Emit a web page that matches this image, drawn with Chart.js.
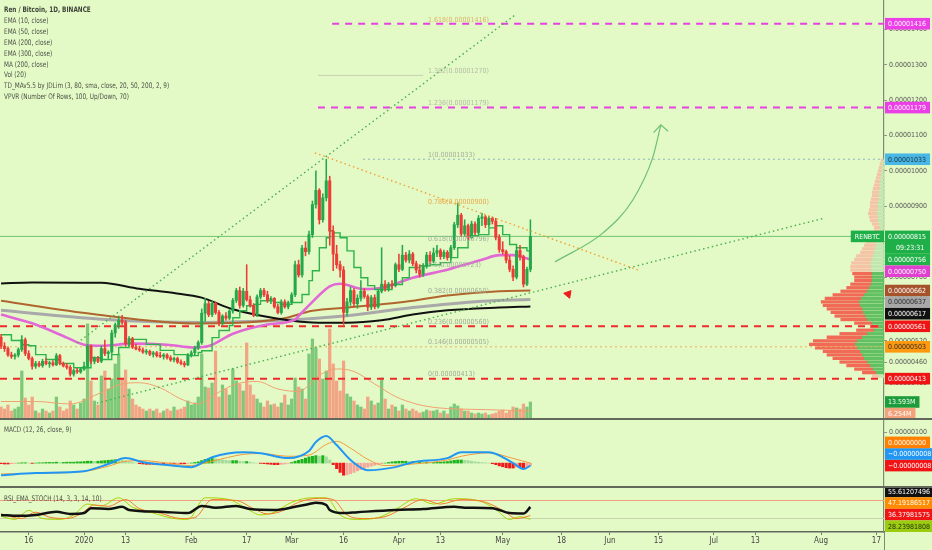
<!DOCTYPE html>
<html>
<head>
<meta charset="utf-8">
<title>Ren / Bitcoin, 1D</title>
<script src="https://cdn.jsdelivr.net/npm/chart.js@4.4.1/dist/chart.umd.min.js"></script>
<style>
body{margin:0;background:#e4fac6;}
#wrap{position:relative;width:932px;height:550px;overflow:hidden;background:#e4fac6;font-family:"Liberation Sans Narrow","DejaVu Sans Condensed",sans-serif;}
canvas{position:absolute;left:0;}
.sep{position:absolute;left:0;width:932px;height:2px;background:#62695c;}
.txt{position:absolute;left:4px;font-size:7.6px;color:#4a4f46;white-space:nowrap;line-height:10.9px;transform:scaleX(0.84);transform-origin:0 0;}
</style>
</head>
<body>
<div id="wrap">
<canvas id="cMain" width="932" height="419" style="top:0"></canvas>
<canvas id="cMacd" width="932" height="68" style="top:419px"></canvas>
<canvas id="cRsi" width="932" height="63" style="top:487px"></canvas>
<div class="sep" style="top:418px"></div>
<div class="sep" style="top:486px"></div>
<div style="position:absolute;left:884px;top:532px;width:1.2px;height:18px;background:#7d8a75"></div>
<div class="txt" style="top:5px"><b style="color:#3c4238">Ren / Bitcoin, 1D, BINANCE</b><br>EMA (10, close)<br>EMA (50, close)<br>EMA (200, close)<br>EMA (300, close)<br>MA (200, close)<br>Vol (20)<br>TD_MAv5.5 by JDLim (3, 80, sma, close, 20, 50, 200, 2, 9)<br>VPVR (Number Of Rows, 100, Up/Down, 70)</div>
<div class="txt" style="top:425px">MACD (12, 26, close, 9)</div>
<div class="txt" style="top:494px">RSI_EMA_STOCH (14, 3, 3, 14, 10)</div>
</div>
<script>
// day index 0 = 8 Dec 2019, prices in satoshi (1e-8 BTC)
const X_MIN = -0.3, X_MAX = 255.2;
const FONT = '"Liberation Sans Narrow","DejaVu Sans Condensed",sans-serif';

const xTickIdx  = [8, 24, 36, 55, 71, 84, 99, 115, 127, 145, 162, 176, 190, 206, 218, 237, 253];
const xTickText = ['16', '2020', '13', 'Feb', '17', 'Mar', '16', 'Apr', '13', 'May', '18', 'Jun', '15', 'Jul', '13', 'Aug', '17'];
const priceTicks = [400, 460, 520, 640, 700, 800, 900, 1000, 1100, 1200, 1300, 1400];

const candleOpen = [530,505,498,480,476,480,495,523,484,470,448,456,450,462,455,458,452,478,456,449,445,426,436,432,440,448,505,462,470,462,
  498,484,488,542,565,578,572,512,526,502,497,494,488,490,482,486,478,476,480,472,466,470,460,456,452,480,486,500,515,598,
  625,594,626,600,570,590,584,604,634,662,620,660,636,620,592,644,662,650,634,640,616,600,630,616,628,650,735,706,782,772,
  820,905,945,862,924,972,830,765,735,720,600,630,662,625,640,660,645,615,642,616,660,680,668,680,676,735,722,762,748,765,
  738,720,708,730,762,745,768,775,758,770,755,783,848,875,822,845,812,850,826,866,870,848,866,858,812,778,772,748,722,700,
  775,757,680,722];
const candleHigh = [538,515,503,488,484,500,535,528,492,475,462,462,468,470,462,464,484,482,460,456,450,440,442,445,460,510,508,475,476,505,
  522,492,550,570,590,592,578,532,530,510,505,500,496,494,490,490,488,484,484,478,474,474,466,462,484,492,505,520,610,640,
  632,632,630,606,594,600,608,640,668,672,668,735,646,625,650,668,668,660,645,642,624,636,636,632,656,745,748,790,800,830,
  915,1000,950,935,1033,985,845,790,745,730,640,672,668,650,690,668,650,648,650,665,783,690,685,690,740,765,790,770,775,770,
  745,735,738,770,772,782,790,780,776,775,790,855,910,880,862,850,858,856,874,880,874,872,870,866,820,800,776,760,732,785,
  790,762,728,862];
const candleLow = [498,490,476,470,468,474,490,478,466,440,442,446,445,452,445,448,450,452,446,440,420,420,428,428,436,444,455,455,458,458,
  478,470,484,530,555,566,505,505,498,494,490,484,482,478,474,474,472,468,468,462,460,456,452,446,450,474,480,495,510,575,
  588,588,595,562,565,578,580,598,628,612,615,632,615,588,588,638,645,628,625,612,596,595,612,610,622,645,700,700,760,765,
  812,895,850,855,915,790,718,725,700,566,590,620,615,612,632,640,605,608,610,612,655,660,660,668,672,715,718,742,740,732,
  712,700,702,725,738,740,758,750,752,748,750,778,840,815,815,805,808,820,822,845,840,842,850,805,770,765,740,715,690,695,
  748,672,676,715];
const candleClose = [505,498,480,476,480,495,523,484,470,448,456,450,462,455,458,452,478,456,449,445,426,436,432,440,448,505,462,470,462,498,
  484,488,542,565,578,572,512,526,502,497,494,488,490,482,486,478,476,480,472,466,470,460,456,452,480,486,500,515,598,625,
  594,626,600,570,590,584,604,634,662,620,660,636,620,592,644,662,650,634,640,616,600,630,616,628,650,735,706,782,772,820,
  905,945,862,924,972,830,765,735,720,600,630,662,625,640,660,645,615,642,616,660,680,668,680,676,735,722,762,748,765,738,
  720,708,730,762,745,768,775,758,770,755,783,848,875,822,845,812,850,826,866,870,848,866,858,812,778,772,748,722,700,775,
  757,680,722,815];
// volume, millions of REN
const volumeM = [9.6,8,11.2,6.4,8,9.6,38.4,16.8,11.2,17.6,6.4,4.8,8,6.4,4.8,6.4,17.6,9.6,6.4,8,14.4,11.2,8,12.8,16,76,30.4,14.4,11.2,34.4,
  38.4,24,32,44,52,32,39.2,24,16,11.2,9.6,8,6.4,8,6.4,8,4.8,6.4,8,6.4,9.6,7.2,8,9.6,14.4,11.2,12.8,17.6,52,25.6,
  24.8,28.8,54.4,17.6,27.2,24,19.2,40,30.4,28,22.4,60.8,27.2,19.2,16,12.8,9.6,14.4,11.2,12,9.6,12.8,19.2,11.2,16,32.8,25.6,24,16,52,
  64,56.8,48,32,38.4,72,44,30.4,22.4,46.4,20,17.6,14.4,11.2,9.6,8,17.6,14.4,11.2,12.8,32.8,16,8,11.2,9.6,6.4,11.2,8,6.4,8,
  6.4,4.8,5.6,7.2,6.4,6.4,7.2,4.8,6.4,4,9.6,12,10.4,8,6.4,6.4,4.8,4,4.8,4,4.8,3.2,4,4.8,6.4,7.2,4.8,6.4,9.6,8.8,
  8,12,9.6,13.593];
const volMA = [[0,14],[10,14],[20,12],[28,20],[35,28],[40,29],[46,25],[52,16],[57,12],[62,20],[68,28],[74,30],[80,24],[86,22],[92,35],
  [97,40],[102,38],[108,28],[114,18],[120,12],[126,9],[132,8],[140,7.5],[146,7],[153,6.254]];

const ema10 = [[0,537],[3,521],[6,509],[8,506],[10,481],[13,467],[17,456],[21,444],[24,444],[26,472],[29,467],[32,481],[34,501],[37,524],
  [39,524],[42,510],[46,493],[50,481],[54,478],[57,487],[58,492],[61,529],[63,549],[66,563],[67,585],[69,605],[71,619],[73,623],
  [75,633],[77,633],[79,628],[81,623],[84,628],[87,651],[89,690],[90,718],[92,783],[94,811],[95,831],[96,825],[98,811],[100,774],
  [102,727],[104,698],[106,676],[108,665],[110,665],[113,679],[116,698],[118,727],[121,732],[124,735],[127,741],[130,755],[132,783],
  [135,817],[138,820],[141,839],[143,845],[145,820],[147,792],[149,783],[152,774],[153,756]];
const ema50 = [[0,594],[10,566],[19,529],[24,509],[29,506],[38,512],[48,509],[56,501],[60,505],[67,540],[77,566],[85,580],[86,590],
  [90,630],[95,674],[98,681],[105,666],[110,670],[119,698],[129,721],[139,749],[144,762],[148,762],[153,750]];
const ema200 = [[0,633],[27,595],[56,569],[81,582],[90,605],[100,614],[115,628],[129,648],[144,660],[153,662]];
const ema300 = [[0,606],[29,581],[58,572],[81,578],[100,591],[119,614],[139,632],[153,637]];
const ma200 = [[0,682],[9,685],[29,684],[40,667],[50,655],[58,642],[67,609],[83,578],[90,572],[100,571],[110,578],[119,594],
  [129,606],[144,614],[153,617]];

// volume profile rows: [price, up volume, down volume]
const vpRows = [[420,5,7],[430,8,14],[440,11,19],[450,14,24],[460,17,28],[470,20,32],[480,22,36],[490,24,38],[500,27,43],[510,29,47],
  [520,27,45],[530,22,36],[540,17,28],[550,10,18],[560,5,9],[570,12,18],[580,17,27],[590,19,31],[600,21,33],[610,22,36],
  [620,24,38],[630,25,39],[640,23,37],[650,20,32],[660,17,27],[670,15,23],[680,13,21],[690,12,18],[700,12,18],[710,12,20],
  [720,13,21],[730,13,21],[740,13,20],[750,12,18],[760,11,17],[770,10,14],[780,9,13],[790,8,12],[800,7,11],[810,7,9],
  [820,5,7],[830,4,6],[840,4,6],[850,5,7],[860,6,8],[870,6,9],[880,7,9],[890,6,9],[900,6,8],[910,6,8],
  [920,5,8],[930,5,7],[940,5,7],[950,4,7],[960,4,6],[970,4,5],[980,3,5],[990,3,4],[1000,2,4],[1010,2,3],[1020,2,2],[1030,1,2]];
const vpValueArea = [430, 710];

// drawn levels and tools
const levelValues = [1416, 1179, 1033, 815, 561, 503, 413];
const levelFrom   = [95.7, 91.6, 104.6, X_MIN, X_MIN, X_MIN, X_MIN];
const fibRatios = [1.618, 1.382, 1.236, 1, 0.786, 0.618, 0.5, 0.382, 0.236, 0.146, 0];
const fibValues = [1416, 1270, 1179, 1033, 900, 796, 723, 650, 560, 505, 413];
const fibSpan = [91.6, 122];
const trendUp1 = [[22.0, 514], [148.5, 1440]];
const trendUp2 = [[27.7, 344], [238.1, 867]];
const trendDown = [[90.7, 1051], [184.1, 720]];
const curveArrow = [[160.1, 743], [174, 825], [182.6, 918], [188.4, 1039], [190.7, 1130]];
const curveHead = [[188.6, 1108], [190.7, 1130], [192.8, 1112]];
const downMark = [[163.9, 652]];

// MACD (satoshi)
const macdLine = [[0,-39],[10,-32],[24,-26],[31,-3],[36,16],[41,3],[48,-6],[55,-13],[61,19],[70,35],[75,32],[83,16],[89,39],[91,68],
  [94,87],[97,58],[101,10],[106,-23],[114,-13],[119,3],[129,16],[133,35],[141,35],[148,0],[151,-19],[153,-8]];
const signalLine = [[0,-35],[10,-33],[24,-27],[31,-10],[36,6],[41,8],[48,0],[55,-8],[61,6],[70,28],[75,31],[83,22],[89,26],[94,60],
  [97,70],[101,48],[106,12],[111,-8],[119,-3],[129,10],[133,22],[141,33],[148,15],[153,0]];
const macdHist = [-2,-3,-3,-2,-1,0, 1,1,0,-1,0,1, 1,2,2,2,3,2,2,3, 3,3,4,4,5, 6,6,5,6,7,8, 9,10,11,10,9,7, 4,2,0,-2,-3,-4,
  -4,-4,-5,-4,-4,-3, -3,-3,-2,-2,-2,-1, 0,2,4,8,12,14, 15,14,12,10,9,8, 8,8,6,5,5,3, 1,0,-1,-2,-3,-4, -5,-5,-4,-3,-1,2,
  6,9,12,16,20,22, 24,22,24,20,10,-5, -18,-30,-39,-38,-34,-30, -25,-21,-17,-13,-10,-7, -4,-2,0,2,4,5, 6,6,6,5,5,4,
  4,3,3,2,2,3, 3,4,5,7,9,10, 10,9,8,6,4,3, 2,1,0,-2,-5,-9, -12,-15,-16,-16,-13,-15, -18,-14,-8];

// RSI / stochastic
const rsiLine = [[0,38],[5,36],[10,38],[16,45],[20,40],[24,42],[26,53],[31,51],[35,56],[37,49],[46,45],[54,42],[58,58],[62,54],[68,58],
  [72,51],[79,49],[85,56],[89,62],[91,65],[94,60],[95,49],[99,42],[103,44],[114,49],[122,51],[131,56],[134,54],[142,53],[147,42],
  [151,41],[153,55.61]];
const stochK = [[0,35],[4,28],[8,48],[12,30],[17,28],[21,38],[25,62],[29,58],[34,76],[38,55],[44,42],[50,30],[54,28],[59,76],[66,72],
  [71,52],[75,38],[79,44],[84,66],[90,76],[94,76],[98,38],[103,28],[109,32],[114,50],[120,74],[125,62],[131,74],[138,70],[143,50],
  [147,28],[150,34],[153,28.24]];
const stochD = [[0,40],[6,30],[10,44],[14,33],[19,30],[23,40],[27,60],[31,57],[36,72],[40,52],[46,42],[52,30],[56,32],[61,72],[68,70],
  [73,52],[77,40],[81,46],[86,66],[92,75],[96,72],[100,38],[105,30],[111,34],[116,52],[122,72],[127,62],[133,72],[140,66],[145,48],
  [149,30],[153,36.38]];
const rsiBands = [70, 30];

// ---------- helpers ----------
const idx = candleOpen.map((_, i) => i);
const isUp = i => candleClose[i] >= candleOpen[i];
const pts = arr => arr.map(p => ({x: p[0], y: p[1]}));
const sat = v => (v / 1e8).toFixed(8);

function line(arr, color, width, extra) {
  return Object.assign({type: 'line', data: pts(arr), borderColor: color, borderWidth: width, pointRadius: 0,
    fill: false, xAxisID: 'x', yAxisID: 'y', cubicInterpolationMode: 'monotone'}, extra || {});
}

function badges(items, mode) {
  return {
    id: 'badges',
    afterDraw(chart) {
      const ctx = chart.ctx, area = chart.chartArea, H = 11.6;
      ctx.save();
      ctx.font = '7px ' + FONT;
      ctx.textBaseline = 'middle';
      const list = items.map((it, k) => ({it, k, y: chart.scales[it.axis || 'y'].getPixelForValue(it.value), h: it.sub ? H * 2 : H}));
      if (mode === 'up') {
        list.sort((a, b) => b.y - a.y || a.k - b.k);
        let lim = Infinity;
        list.forEach(b => { b.top = Math.min(b.y - H / 2, lim - b.h); lim = b.top; });
      } else {
        list.sort((a, b) => a.y - b.y || a.k - b.k);
        let lim = -Infinity;
        list.forEach(b => { b.top = Math.max(b.y - H / 2, lim); lim = b.top + b.h; });
        const over = lim - area.bottom;
        if (mode === 'clamp' && over > 0) list.forEach(b => { b.top -= over; });
      }
      list.forEach(b => {
        const it = b.it, x0 = area.right + 1;
        let w = ctx.measureText(it.text).width + 7;
        if (it.sub) w = Math.max(w, ctx.measureText(it.sub).width + 16);
        ctx.fillStyle = it.bg;
        ctx.fillRect(x0, b.top, w, b.h);
        ctx.fillStyle = it.fg;
        ctx.fillText(it.text, x0 + 3, b.top + H / 2 + 0.5);
        if (it.sub) ctx.fillText(it.sub, x0 + 11, b.top + H * 1.5 + 0.5);
        if (it.left) {
          const lw = ctx.measureText(it.left).width + 8;
          ctx.fillStyle = it.bg;
          ctx.fillRect(area.right - lw, b.top, lw, H);
          ctx.fillStyle = it.fg;
          ctx.fillText(it.left, area.right - lw + 4, b.top + H / 2 + 0.5);
        }
      });
      ctx.restore();
    }
  };
}

const fibText = {
  id: 'fibText',
  afterDatasetsDraw(chart) {
    const ctx = chart.ctx, xs = chart.scales.x, ys = chart.scales.y;
    const colors = ['#dcb46a', '#b4bca6', '#b4bca6', '#a4b09c', '#eaa84a', '#a4b09c', '#a4b09c', '#a0ab96', '#a0ab96', '#a0ab96', '#a0ab96'];
    ctx.save();
    ctx.font = '7px ' + FONT;
    ctx.textBaseline = 'bottom';
    fibRatios.forEach((r, i) => {
      ctx.fillStyle = colors[i];
      ctx.fillText(r + '(' + sat(fibValues[i]) + ')', xs.getPixelForValue(123.4), ys.getPixelForValue(fibValues[i]) - 0.5);
    });
    ctx.restore();
  }
};

function noPad(s) { s.paddingTop = 0; s.paddingBottom = 0; s.paddingLeft = 0; s.paddingRight = 0; }
function xAxis(show) {
  const ax = {type: 'linear', min: X_MIN, max: X_MAX, offset: false, display: show,
    afterBuildTicks: s => { s.ticks = xTickIdx.map(v => ({value: v})); },
    ticks: {autoSkip: false, maxRotation: 0, padding: 1, color: '#444', font: {family: FONT, size: 8},
      callback: v => { const k = xTickIdx.indexOf(v); return k >= 0 ? xTickText[k] : ''; }},
    grid: {display: true, offset: false, drawOnChartArea: false, tickLength: 3, color: '#777'},
    border: {display: true, color: '#62695c', width: 1.5},
    afterFit: s => { noPad(s); if (show) s.height = 18; }};
  return ax;
}
function yAxis(min, max, ticks, fmt) {
  return {type: 'linear', position: 'right', min, max, offset: false,
    afterBuildTicks: s => { s.ticks = ticks.map(v => ({value: v})); },
    afterFit: s => { s.width = 48; noPad(s); },
    ticks: {autoSkip: false, padding: 2, color: '#555', font: {family: FONT, size: 7}, callback: fmt},
    grid: {display: true, offset: false, drawOnChartArea: false, tickLength: 3, color: '#8a9680'},
    border: {display: true, color: '#7d8a75', width: 1.2}};
}
const baseOpts = {responsive: false, animation: false, events: [], layout: {padding: 0, autoPadding: false},
  plugins: {legend: {display: false}, tooltip: {enabled: false}}};

// ---------- main pane ----------
const GREEN = '#25a84a', RED = '#ee3b36';
const candleColors = idx.map(i => isUp(i) ? GREEN : RED);
const inVA = r => r[0] >= vpValueArea[0] && r[0] <= vpValueArea[1];
const mainSets = [
  {type: 'bar', data: idx.map(i => ({x: i, y: [candleOpen[i], candleClose[i]]})), backgroundColor: candleColors,
    barThickness: 2.4, minBarLength: 1, grouped: false, xAxisID: 'x', yAxisID: 'y', order: 1},
  {type: 'bar', data: idx.map(i => ({x: i, y: [candleLow[i], candleHigh[i]]})), backgroundColor: candleColors,
    barThickness: 0.9, grouped: false, xAxisID: 'x', yAxisID: 'y', order: 2},
  line(ema10, '#2db34a', 1.4, {stepped: true, order: 3}),
  line(ema50, '#e268d6', 2.6, {order: 4}),
  line(ma200, '#111111', 2, {order: 5}),
  line(ema200, '#b0652e', 2, {order: 6}),
  line(ema300, '#a9a9a9', 3, {order: 7}),
  line(trendUp1, '#45b04c', 1.4, {borderDash: [1.5, 3], order: 0}),
  line(trendUp2, '#45b04c', 1.4, {borderDash: [1.5, 3], order: 0}),
  line(trendDown, '#f0a030', 1.4, {borderDash: [1.5, 3], order: 0}),
  line(curveArrow, '#6cc070', 1.2, {order: 0}),
  line(curveHead, '#6cc070', 1.2, {cubicInterpolationMode: 'default', tension: 0, order: 0}),
  {type: 'line', data: pts(downMark), showLine: false, pointStyle: 'triangle', pointRadius: 4.5, rotation: 160,
    pointBackgroundColor: '#ee1c1c', pointBorderColor: '#ee1c1c', xAxisID: 'x', yAxisID: 'y', order: 0},
  line([[fibSpan[0], fibValues[1]], [fibSpan[1], fibValues[1]]], '#c6cfb6', 1, {order: 9}),
  {type: 'line', data: pts(volMA), borderColor: '#f0a070', borderWidth: 1, pointRadius: 0, xAxisID: 'x', yAxisID: 'yv',
    cubicInterpolationMode: 'monotone', order: 10},
  {type: 'bar', data: idx.map(i => ({x: i, y: volumeM[i]})), backgroundColor: idx.map(i => isUp(i) ? '#7ec87a' : '#f2a584'),
    barThickness: 2.6, grouped: false, xAxisID: 'x', yAxisID: 'yv', order: 11},
  {type: 'bar', indexAxis: 'y', data: vpRows.map(r => ({y: r[0], x: r[1]})),
    backgroundColor: vpRows.map(r => inVA(r) ? '#62bf62' : '#c2e6b0'),
    barThickness: 2.6, grouped: false, xAxisID: 'xv', yAxisID: 'y', order: 12},
  {type: 'bar', indexAxis: 'y', data: vpRows.map(r => ({y: r[0], x: [r[1], r[1] + r[2]]})),
    backgroundColor: vpRows.map(r => inVA(r) ? '#f06a55' : '#f5c4a6'),
    barThickness: 2.6, grouped: false, xAxisID: 'xv', yAxisID: 'y', order: 12}
];
const levelStyle = [
  ['#e543e0', 2, [7, 6]], ['#e543e0', 2, [7, 6]], ['#8fb4c0', 1, [2, 3]], ['#70c474', 1, []],
  ['#ee2b2b', 2, [7, 6]], ['#f0b050', 1, [2, 3]], ['#ee2b2b', 2, [7, 6]]];
levelValues.forEach((v, k) => {
  mainSets.push(line([[levelFrom[k], v], [X_MAX, v]], levelStyle[k][0], levelStyle[k][1], {borderDash: levelStyle[k][2], order: 8}));
});

new Chart(document.getElementById('cMain'), {
  type: 'bar',
  data: {datasets: mainSets},
  options: Object.assign({}, baseOpts, {
    scales: {
      x: xAxis(false),
      y: yAxis(299, 1483, priceTicks, v => sat(v)),
      yv: {type: 'linear', display: false, min: 0, max: 335, offset: false},
      xv: {type: 'linear', display: false, min: 0, max: 900, reverse: true, offset: false}
    }
  }),
  plugins: [fibText, badges([
    {value: 1416, text: '0.00001416', bg: '#ec3ee6', fg: '#fff'},
    {value: 1179, text: '0.00001179', bg: '#ec3ee6', fg: '#fff'},
    {value: 1033, text: '0.00001033', bg: '#4ab8e6', fg: '#17313c'},
    {value: 815, text: '0.00000815', sub: '09:23:31', left: 'RENBTC', bg: '#1faf48', fg: '#fff'},
    {value: 756, text: '0.00000756', bg: '#22b24a', fg: '#fff'},
    {value: 750, text: '0.00000750', bg: '#e03fd2', fg: '#fff'},
    {value: 662, text: '0.00000662', bg: '#a5522b', fg: '#fff'},
    {value: 637, text: '0.00000637', bg: '#a8a8a8', fg: '#2a2a2a'},
    {value: 617, text: '0.00000617', bg: '#111111', fg: '#fff'},
    {value: 561, text: '0.00000561', bg: '#f01414', fg: '#fff'},
    {value: 503, text: '0.00000503', bg: '#ff9a10', fg: '#2a2a2a'},
    {value: 413, text: '0.00000413', bg: '#f01414', fg: '#fff'},
    {value: 13.593, axis: 'yv', text: '13.593M', bg: '#1c9c3a', fg: '#fff'},
    {value: 6.254, axis: 'yv', text: '6.254M', bg: '#f4a27c', fg: '#fff'}
  ], 'down')]
});

// ---------- MACD pane ----------
const histColors = macdHist.map((h, i) => {
  const p = i ? macdHist[i - 1] : h;
  return h >= 0 ? (h >= p ? '#1db21d' : '#a3dc9c') : (h <= p ? '#f01818' : '#f6a79c');
});
new Chart(document.getElementById('cMacd'), {
  type: 'bar',
  data: {datasets: [
    line(macdLine, '#2196f3', 2, {order: 0}),
    line(signalLine, '#f39a3c', 1, {order: 1}),
    {type: 'bar', data: macdHist.map((h, i) => ({x: i, y: h})), backgroundColor: histColors,
      barThickness: 2.4, grouped: false, xAxisID: 'x', yAxisID: 'y', order: 2}
  ]},
  options: Object.assign({}, baseOpts, {
    scales: {x: xAxis(false), y: yAxis(-77, 142, [100], v => sat(v))}
  }),
  plugins: [badges([
    {value: -8, text: '\u22120.00000008', bg: '#f01414', fg: '#fff'},
    {value: -8, text: '\u22120.00000008', bg: '#2196f3', fg: '#fff'},
    {value: 0, text: '0.00000000', bg: '#ff7f00', fg: '#fff'}
  ], 'up')]
});

// ---------- RSI pane ----------
new Chart(document.getElementById('cRsi'), {
  type: 'line',
  data: {datasets: [
    line([[X_MIN, rsiBands[0]], [X_MAX, rsiBands[0]]], '#f2a07e', 1, {order: 5}),
    line([[X_MIN, rsiBands[1]], [X_MAX, rsiBands[1]]], '#c4d3aa', 1, {order: 5}),
    line(stochK, '#a6d200', 1, {order: 2}),
    line(stochD, '#f2772c', 1, {order: 1}),
    line(rsiLine, '#111111', 2.5, {order: 0})
  ]},
  options: Object.assign({}, baseOpts, {
    scales: {x: xAxis(true), y: yAxis(0, 100, [], v => v)}
  }),
  plugins: [badges([
    {value: 55.61, text: '55.61207496', bg: '#111111', fg: '#fff'},
    {value: 47.19, text: '47.19186517', bg: '#ff8c00', fg: '#fff'},
    {value: 36.38, text: '36.37981575', bg: '#f01414', fg: '#fff'},
    {value: 28.24, text: '28.23981808', bg: '#9ccc10', fg: '#1e2a10'}
  ], 'clamp')]
});
</script>
</body>
</html>
